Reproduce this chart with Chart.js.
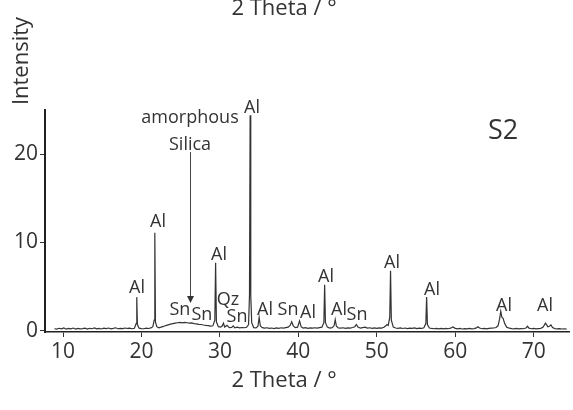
<!DOCTYPE html>
<html>
<head>
<meta charset="utf-8">
<script src="https://cdn.jsdelivr.net/npm/chart.js@4.4.0/dist/chart.umd.min.js"></script>
<style>
  html, body { margin: 0; padding: 0; background: #fff; }
  #wrap { width: 573px; height: 410px; }
</style>
</head>
<body>
<div id="wrap"><canvas id="xrdChart" width="573" height="410"></canvas></div>
<script>
// diffractogram of sample S2, read point by point
const twoTheta = [
  8.9, 9.2, 9.5, 9.8, 10.1, 10.4, 10.7, 11.0, 11.3, 11.6,
  11.9, 12.2, 12.5, 12.8, 13.1, 13.4, 13.7, 14.0, 14.3, 14.6,
  14.9, 15.2, 15.5, 15.8, 16.1, 16.4, 16.7, 17.0, 17.3, 17.6,
  17.9, 18.2, 18.5, 18.8, 19.1, 19.32, 19.4, 19.48, 19.7, 20.0,
  20.3, 20.6, 20.9, 21.2, 21.45, 21.62, 21.7, 21.78, 21.95, 22.2,
  22.5, 22.8, 23.1, 23.4, 23.7, 24.0, 24.3, 24.6, 24.9, 25.2,
  25.5, 25.8, 26.1, 26.4, 26.7, 27.0, 27.3, 27.6, 27.9, 28.2,
  28.5, 28.8, 29.1, 29.35, 29.45, 29.55, 29.8, 30.1, 30.3, 30.45,
  30.6, 30.9, 31.2, 31.5, 31.7, 31.9, 32.2, 32.5, 32.8, 33.1,
  33.4, 33.65, 33.77, 33.85, 33.93, 34.05, 34.3, 34.6, 34.85, 35.0,
  35.15, 35.4, 35.7, 36.0, 36.3, 36.6, 36.9, 37.2, 37.5, 37.8,
  38.1, 38.4, 38.7, 38.95, 39.15, 39.35, 39.6, 39.9, 40.15, 40.35,
  40.6, 40.9, 41.2, 41.5, 41.8, 42.1, 42.4, 42.7, 43.0, 43.25,
  43.35, 43.45, 43.7, 44.0, 44.3, 44.55, 44.7, 44.85, 45.1, 45.4,
  45.7, 46.0, 46.3, 46.6, 46.9, 47.2, 47.4, 47.6, 47.9, 48.2,
  48.5, 48.8, 49.1, 49.4, 49.7, 50.0, 50.3, 50.6, 50.9, 51.15,
  51.3, 51.45, 51.65, 51.75, 51.85, 52.1, 52.4, 52.7, 53.0, 53.3,
  53.6, 53.9, 54.2, 54.5, 54.8, 55.1, 55.4, 55.7, 56.0, 56.25,
  56.35, 56.45, 56.7, 57.0, 57.3, 57.6, 57.9, 58.2, 58.5, 58.8,
  59.1, 59.4, 59.7, 60.0, 60.3, 60.6, 60.9, 61.2, 61.5, 61.8,
  62.1, 62.4, 62.7, 62.9, 63.1, 63.4, 63.7, 64.0, 64.3, 64.6,
  64.9, 65.2, 65.45, 65.65, 65.8, 65.95, 66.1, 66.3, 66.55, 66.9,
  67.2, 67.5, 67.8, 68.1, 68.4, 68.7, 69.0, 69.2, 69.4, 69.7,
  70.0, 70.3, 70.6, 70.9, 71.2, 71.5, 71.8, 72.0, 72.2, 72.4,
  72.7, 73.0, 73.3, 73.6, 73.9, 74.2
];
const intensity = [
  0.22, 0.18, 0.27, 0.20, 0.31, 0.17, 0.25, 0.21, 0.30, 0.19,
  0.26, 0.20, 0.24, 0.29, 0.18, 0.27, 0.22, 0.31, 0.20, 0.25,
  0.19, 0.28, 0.23, 0.30, 0.21, 0.26, 0.33, 0.22, 0.27, 0.24,
  0.30, 0.25, 0.28, 0.22, 0.27, 0.8, 3.8, 0.7, 0.28, 0.24,
  0.22, 0.29, 0.25, 0.31, 0.45, 1.2, 11.1, 1.0, 0.45, 0.33,
  0.40, 0.48, 0.58, 0.66, 0.74, 0.80, 0.86, 0.90, 0.93, 0.88,
  0.94, 0.90, 0.86, 0.89, 0.80, 0.78, 0.72, 0.70, 0.64, 0.60,
  0.58, 0.52, 0.55, 1.2, 7.7, 1.0, 0.45, 0.40, 0.55, 0.85,
  0.42, 0.60, 0.35, 0.38, 0.55, 0.33, 0.40, 0.31, 0.36, 0.33,
  0.38, 0.7, 4.0, 24.4, 4.0, 0.9, 0.35, 0.32, 0.5, 1.5,
  0.55, 0.35, 0.28, 0.33, 0.26, 0.30, 0.24, 0.31, 0.27, 0.33,
  0.28, 0.34, 0.40, 0.60, 1.0, 0.55, 0.35, 0.40, 1.1, 0.45,
  0.30, 0.35, 0.27, 0.32, 0.29, 0.33, 0.28, 0.35, 0.40, 0.9,
  5.2, 0.9, 0.40, 0.30, 0.34, 0.55, 1.25, 0.5, 0.32, 0.28,
  0.33, 0.27, 0.31, 0.29, 0.36, 0.45, 0.7, 0.42, 0.30, 0.35,
  0.40, 0.29, 0.33, 0.27, 0.31, 0.26, 0.32, 0.30, 0.38, 0.55,
  0.70, 0.60, 1.5, 6.8, 1.2, 0.40, 0.30, 0.27, 0.32, 0.25,
  0.30, 0.24, 0.29, 0.26, 0.31, 0.23, 0.28, 0.25, 0.32, 0.8,
  3.8, 0.7, 0.30, 0.25, 0.22, 0.27, 0.21, 0.26, 0.20, 0.25,
  0.22, 0.28, 0.42, 0.26, 0.21, 0.25, 0.19, 0.24, 0.21, 0.26,
  0.20, 0.24, 0.32, 0.45, 0.30, 0.22, 0.26, 0.21, 0.25, 0.28,
  0.30, 0.36, 0.55, 1.3, 2.2, 1.5, 1.4, 0.8, 0.40, 0.28,
  0.24, 0.21, 0.26, 0.20, 0.24, 0.22, 0.30, 0.50, 0.28, 0.22,
  0.25, 0.20, 0.24, 0.27, 0.40, 0.85, 0.45, 0.50, 0.65, 0.35,
  0.24, 0.20, 0.23, 0.19, 0.22, 0.18
];

const xTicks = [10, 15, 20, 25, 30, 35, 40, 45, 50, 55, 60, 65, 70];
const yTicks = [0, 5, 10, 15, 20, 25];

// phase assignment labels, placed in data units (2θ, intensity)
const phaseLabels = [
  { text: 'Al', x: 19.43, y: 4.84 },
  { text: 'Al', x: 22.1, y: 12.3 },
  { text: 'Al', x: 29.88, y: 8.58 },
  { text: 'Al', x: 34.09, y: 25.2 },
  { text: 'Sn', x: 24.9, y: 2.35 },
  { text: 'Sn', x: 27.7, y: 1.78 },
  { text: 'Qz', x: 31.03, y: 3.48 },
  { text: 'Sn', x: 32.18, y: 1.55 },
  { text: 'Al', x: 35.75, y: 2.35 },
  { text: 'Sn', x: 38.68, y: 2.35 },
  { text: 'Al', x: 41.23, y: 2.0 },
  { text: 'Al', x: 43.52, y: 6.09 },
  { text: 'Al', x: 45.18, y: 2.35 },
  { text: 'Sn', x: 47.48, y: 1.78 },
  { text: 'Al', x: 51.94, y: 7.67 },
  { text: 'Al', x: 57.04, y: 4.61 },
  { text: 'Al', x: 66.22, y: 2.8 },
  { text: 'Al', x: 71.44, y: 2.8 },
  { text: 'amorphous', x: 26.19, y: 24.1 },
  { text: 'Silica', x: 26.19, y: 21.04 }
];
const silicaArrow = { x: 26.19, from: 20.24, to: 3.14 };

const textColor = '#333';
const labelFont = '"Open Sans", "Noto Sans", sans-serif';

const annotate = {
  id: 'annotate',
  afterDatasetsDraw(chart) {
    const { ctx, scales: { x, y } } = chart;
    ctx.save();
    ctx.fillStyle = textColor;
    ctx.textAlign = 'center';
    ctx.textBaseline = 'middle';
    ctx.font = '18px ' + labelFont;
    phaseLabels.forEach(l => {
      ctx.fillText(l.text, x.getPixelForValue(l.x), y.getPixelForValue(l.y));
    });

    // arrow pointing down at the amorphous hump
    const ax = Math.round(x.getPixelForValue(silicaArrow.x)) + 0.5;
    const y1 = y.getPixelForValue(silicaArrow.from);
    const y2 = y.getPixelForValue(silicaArrow.to);
    ctx.strokeStyle = '#444';
    ctx.lineWidth = 1;
    ctx.beginPath();
    ctx.moveTo(ax, y1);
    ctx.lineTo(ax, y2 - 6);
    ctx.stroke();
    ctx.beginPath();
    ctx.moveTo(ax - 3.5, y2 - 7);
    ctx.lineTo(ax + 3.5, y2 - 7);
    ctx.lineTo(ax, y2);
    ctx.closePath();
    ctx.fill();

    // sample name
    ctx.font = '27px ' + labelFont;
    ctx.fillText('S2', 503, 131);

    // axis titles
    ctx.font = '22px ' + labelFont;
    ctx.fillText('2 Theta / °', 284, 381);
    ctx.textBaseline = 'alphabetic';
    ctx.fillText('2 Theta / °', 284, 15);
    ctx.translate(22, 61);
    ctx.rotate(-Math.PI / 2);
    ctx.textBaseline = 'middle';
    ctx.fillText('Intensity', 0, 0);
    ctx.restore();
  }
};

const tickFont = { family: labelFont, size: 21 };

const ctx = document.getElementById('xrdChart').getContext('2d');
new Chart(ctx, {
  type: 'scatter',
  data: {
    datasets: [{
      data: twoTheta.map((t, i) => ({ x: t, y: intensity[i] })),
      showLine: true,
      borderColor: '#333',
      borderWidth: 1.2,
      pointRadius: 0,
      tension: 0
    }]
  },
  options: {
    responsive: false,
    animation: false,
    devicePixelRatio: 1,
    layout: { padding: { top: 110, right: 4, left: 0, bottom: 0 } },
    plugins: {
      legend: { display: false },
      tooltip: { enabled: false }
    },
    scales: {
      x: {
        type: 'linear',
        min: 7.7,
        max: 74.5,
        bounds: 'data',
        afterBuildTicks: s => { s.ticks = xTicks.map(v => ({ value: v })); },
        afterFit: s => { s.height = 78; },
        grid: { drawOnChartArea: false, drawTicks: true, tickLength: 5, color: '#333' },
        border: { display: true, color: '#222', width: 1.5 },
        ticks: {
          autoSkip: false,
          maxRotation: 0,
          padding: 2,
          color: textColor,
          font: tickFont,
          callback: v => (v % 10 === 0 ? String(v) : null)
        }
      },
      y: {
        type: 'linear',
        min: -0.15,
        max: 25,
        bounds: 'data',
        afterBuildTicks: s => { s.ticks = yTicks.map(v => ({ value: v })); },
        afterFit: s => { s.width = 45; },
        grid: { drawOnChartArea: false, drawTicks: true, tickLength: 5, color: '#333' },
        border: { display: true, color: '#222', width: 2 },
        ticks: {
          padding: 2,
          color: textColor,
          font: tickFont,
          callback: v => (v % 10 === 0 ? String(v) : null)
        }
      }
    }
  },
  plugins: [annotate]
});
</script>
</body>
</html>
